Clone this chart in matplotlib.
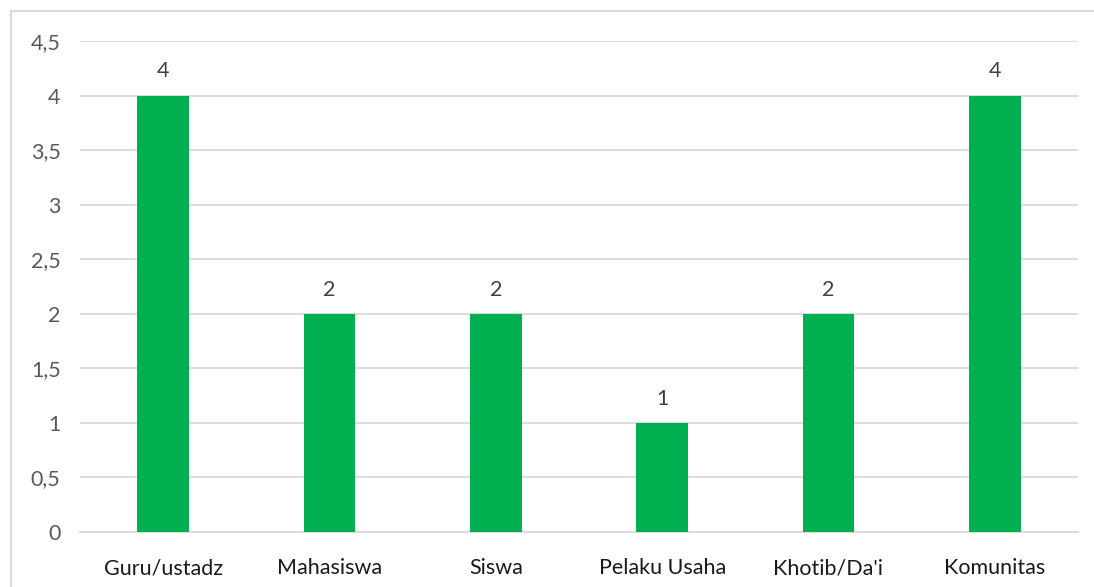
import matplotlib
matplotlib.use("Agg")
import matplotlib.pyplot as plt
from matplotlib.patches import Rectangle
from matplotlib.ticker import FuncFormatter, MultipleLocator

categories = ["Guru/ustadz", "Mahasiswa", "Siswa", "Pelaku Usaha", "Khotib/Da'i", "Komunitas"]
values = [4, 2, 2, 1, 2, 4]

plt.rcParams['font.family'] = ['Lato', 'DejaVu Sans']

fig = plt.figure(figsize=(10.94, 5.87), dpi=100)
# chart area border (extends past the right and bottom edges)
fig.patches.append(Rectangle((11 / 1094, -0.05), 1.2, 1 - 11 / 587 + 0.05,
                             transform=fig.transFigure, fill=False,
                             edgecolor="#D9D9D9", linewidth=1.5))

ax = fig.add_axes([80 / 1094, 1 - 532 / 587, (1078 - 80) / 1094, (532 - 41) / 587])
x = range(len(categories))
bars = ax.bar(x, values, width=0.31, color="#00B050", zorder=3)
for b, v in zip(bars, values):
    ax.text(b.get_x() + b.get_width() / 2, v + 0.13, str(v), ha="center", va="bottom",
            fontsize=15.5, color="#404040")

ax.set_xlim(-0.5, len(categories) - 0.5)
ax.set_ylim(0, 4.5)
ax.yaxis.set_major_locator(MultipleLocator(0.5))
ax.yaxis.set_major_formatter(FuncFormatter(lambda v, p: f"{v:g}".replace(".", ",")))
ax.set_xticks(list(x))
ax.set_xticklabels(categories, fontsize=15.5, color="#1a1a1a")
ax.tick_params(axis="y", labelsize=15.5, labelcolor="#595959", length=0, pad=14)
ax.tick_params(axis="x", length=0, pad=19)
ax.grid(axis="y", color="#D9D9D9", linewidth=1.3, zorder=0)
for s in ["top", "right", "left"]:
    ax.spines[s].set_visible(False)
ax.spines["bottom"].set_color("#D9D9D9")
ax.spines["bottom"].set_linewidth(1.3)

fig.savefig("out.png", dpi=100)
